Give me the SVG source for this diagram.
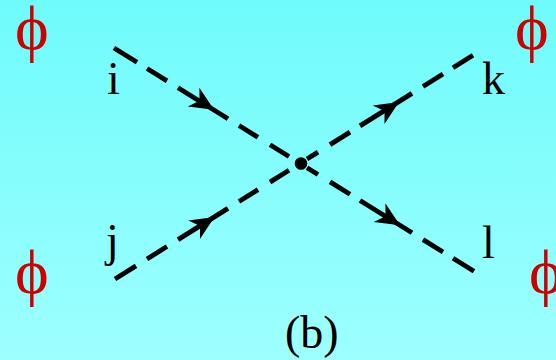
<svg xmlns="http://www.w3.org/2000/svg" width="556" height="360" viewBox="0 0 556 360">
  <defs>
    <linearGradient id="bg" x1="0" y1="0" x2="0" y2="1">
      <stop offset="0" stop-color="#6FFBFB"/>
      <stop offset="1" stop-color="#9EFFFF"/>
    </linearGradient>
    <path id="arrow" d="M0,0 L-24,-11 L-17,0 L-24,11 Z"/>
  </defs>
  <style>
    .lbl { font-family: "Liberation Serif", "Times New Roman", serif; font-size: 46px; fill: #000; }
    .phi { font-family: "Liberation Serif", "Times New Roman", serif; font-size: 64px; fill: #CC0000; }
    .dash { stroke: #000; stroke-width: 4.8; stroke-linecap: butt; fill: none; }
    .head { fill: #000; }
  </style>
  <rect x="0" y="0" width="556" height="360" fill="url(#bg)"/>

  <g id="phi-tl"><text class="phi" x="15" y="49">ϕ</text></g>
  <g id="phi-tr"><text class="phi" x="515" y="49">ϕ</text></g>
  <g id="phi-bl"><text class="phi" x="15" y="293">ϕ</text></g>
  <g id="phi-br"><text class="phi" x="529" y="293">ϕ</text></g>

  <g id="node-i"><text class="lbl" x="107" y="94">i</text></g>
  <g id="node-j"><text class="lbl" x="106" y="256">j</text></g>
  <g id="node-k"><text class="lbl" x="482" y="94">k</text></g>
  <g id="node-l"><text class="lbl" x="482" y="258">l</text></g>
  <g id="vertex"><circle cx="301" cy="163.5" r="6.3" fill="#000"/></g>
  <g id="caption"><text class="lbl" x="285" y="348">(b)</text></g>

  <g id="connectors">
    <g class="dash">
      <line x1="114" y1="48" x2="137" y2="62.3"/>
      <line x1="147" y1="68.5" x2="167" y2="80.9"/>
      <line x1="178" y1="87.7" x2="228" y2="118.7"/>
      <line x1="239" y1="125.5" x2="258" y2="137.3"/>
      <line x1="270" y1="144.7" x2="289" y2="156.5"/>
      <line x1="307" y1="167.7" x2="318" y2="174.5"/>
      <line x1="330" y1="181.9" x2="350" y2="194.3"/>
      <line x1="360" y1="200.5" x2="412" y2="232.8"/>
      <line x1="423" y1="239.6" x2="443" y2="252"/>
      <line x1="453" y1="258.2" x2="474" y2="271.2"/>

      <line x1="115" y1="279" x2="136" y2="265.9"/>
      <line x1="147" y1="259" x2="167" y2="246.5"/>
      <line x1="178" y1="239.6" x2="228" y2="208.4"/>
      <line x1="239" y1="201.5" x2="258" y2="189.6"/>
      <line x1="270" y1="182.1" x2="289" y2="170.3"/>
      <line x1="307" y1="159" x2="318" y2="152.1"/>
      <line x1="330" y1="144.6" x2="350" y2="132.1"/>
      <line x1="360" y1="125.9" x2="412" y2="93.4"/>
      <line x1="423" y1="86.5" x2="443" y2="74"/>
      <line x1="453" y1="67.8" x2="473" y2="55.3"/>
    </g>
    <use href="#arrow" class="head" transform="translate(214,109.7) rotate(31.8)"/>
    <use href="#arrow" class="head" transform="translate(400,225.3) rotate(31.8)"/>
    <use href="#arrow" class="head" transform="translate(214.5,217) rotate(-32)"/>
    <use href="#arrow" class="head" transform="translate(399,102) rotate(-32)"/>
  </g>
</svg>
